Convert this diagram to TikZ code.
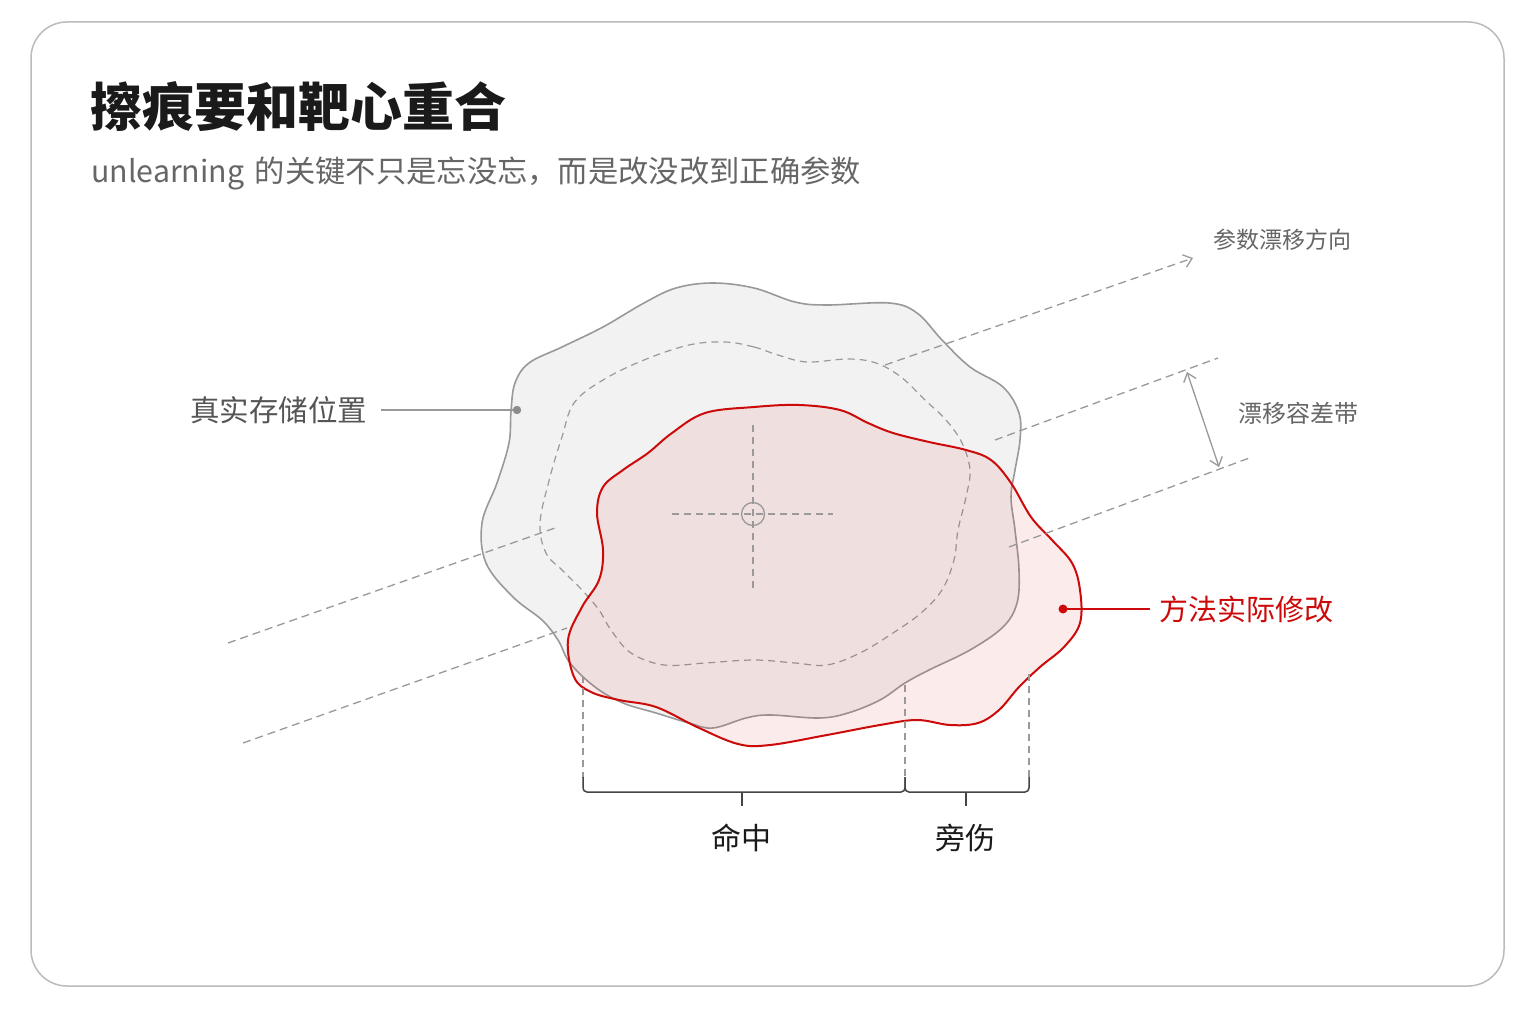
\documentclass[tikz,border=0pt]{standalone}
\usepackage{fontspec}
\setmainfont{Noto Sans CJK SC}
\usetikzlibrary{arrows.meta}
\definecolor{framec}{HTML}{BBBBBB}
\definecolor{blobline}{HTML}{999999}
\definecolor{blobfill}{HTML}{F2F2F2}
\definecolor{dashc}{HTML}{999999}
\definecolor{redc}{HTML}{CC0A0A}
\definecolor{redfill}{HTML}{E62828}
\definecolor{txtgray}{HTML}{555555}
\definecolor{txtlight}{HTML}{666666}
\definecolor{txtdark}{HTML}{1A1A1A}
\definecolor{brackc}{HTML}{444444}
\tikzset{
  fs/.style={font=\fontsize{#1}{#1}\selectfont},
  bandline/.style={draw=dashc, line width=1.3pt, dash pattern=on 8pt off 5pt},
  guideline/.style={draw=dashc, line width=1.2pt, dash pattern=on 7pt off 5pt},
  lbl/.style={inner sep=5pt, anchor=west},
  openhead/.style={-{Straight Barb[length=8pt,width=13pt,line width=1.3pt]}},
}
\begin{document}
\begin{tikzpicture}[x=1pt,y=-1pt]
\fill[white] (0,0) rectangle (1536,1024);
\useasboundingbox (0,0) rectangle (1536,1024);
\draw[framec, line width=1.5pt, rounded corners=36pt] (31,22) rectangle (1504,986);

% title
\node[anchor=west, inner sep=0pt, text=txtdark, font=\bfseries\fontsize{52}{52}\selectfont] (title) at (90,107) {擦痕要和靶心重合};
\node[anchor=west, inner sep=0pt, fs=30.3, text=txtlight] (subtitle) at (91,173) {unlearning\hspace{4pt} 的关键不只是忘没忘，而是改没改到正确参数};

% gray blob (true storage)
\draw[blobline, line width=1.6pt, fill=blobfill] plot[smooth cycle, tension=0.6] coordinates {
(713,283) (754,288) (795,302) (827,305) (889,303) (917,313) (942,340) (970,367)
(1003,387) (1019,413) (1020,440) (1015,470) (1011,497) (1015,530) (1019,570)
(1017,603) (1003,627) (970,650) (929,670) (905,683) (880,700) (848,713) (819,718)
(770,715) (746,718) (713,728) (689,723) (656,713) (623,703) (595,687) (570,663)
(558,640) (542,620) (513,597) (486,563) (482,523) (497,483) (509,443) (511,411)
(515,383) (529,363) (562,347) (603,327) (644,303) (676,288)};

% inner dashed contour
\draw[guideline] plot[smooth cycle, tension=0.6] coordinates {
(725,342) (754,347) (778,355) (807,362) (848,359) (876,363) (901,377) (925,400)
(946,420) (962,443) (970,470) (966,497) (958,530) (954,560) (942,590) (921,613)
(893,633) (860,653) (827,665) (795,663) (754,660) (705,663) (664,665) (631,653)
(611,630) (599,610) (582,590) (562,570) (546,553) (540,523) (550,477) (562,437)
(574,403) (603,380) (644,360) (689,345)};

% red blob (actual modification)
\draw[redc, line width=2pt, fill=redfill, fill opacity=0.09] plot[smooth cycle, tension=0.6] coordinates {
(754,407) (799,405) (840,410) (868,423) (893,433) (929,442) (966,450) (991,460)
(1011,483) (1031,517) (1052,540) (1072,563) (1080,590) (1080,623) (1064,647)
(1040,667) (1019,687) (999,710) (978,723) (950,725) (917,720) (880,725) (827,735)
(770,745) (738,744) (697,727) (656,707) (619,700) (591,692) (574,677) (568,640)
(582,607) (599,580) (603,550) (597,513) (603,487) (623,470) (648,453) (672,433)
(705,413)};

% crosshair
\coordinate (tc) at (753,514);
\draw[guideline, line width=1.1pt] (753,425) -- (753,590);
\draw[guideline, line width=1.1pt] (672,514) -- (833,514);
\draw[blobline, line width=1.3pt] (tc) circle[radius=11.5];

% drift band lines
\coordinate (la1) at (228,643); \coordinate (la2) at (555,528);
\coordinate (lb1) at (243,743); \coordinate (lb2) at (567,628);
\coordinate (ra1) at (885,365); \coordinate (ra2) at (1193,258);
\coordinate (rb1) at (995,440); \coordinate (rb2) at (1218,358);
\coordinate (rc1) at (1009,547); \coordinate (rc2) at (1252,457);
\draw[bandline] (la1) -- (la2);
\draw[bandline] (lb1) -- (lb2);
\draw[bandline, openhead] (ra1) -- (ra2);
\draw[bandline] (rb1) -- (rb2);
\draw[bandline] (rc1) -- (rc2);
\coordinate (tol1) at (1187,372); \coordinate (tol2) at (1219,467);
\draw[dashc, line width=1.3pt, {Straight Barb[length=8pt,width=13pt,line width=1.3pt]}-{Straight Barb[length=8pt,width=13pt,line width=1.3pt]}] (tol1) -- (tol2);

% labels
\node[lbl, fs=23, text=txtlight] (ldrift) at (1208,240) {参数漂移方向};
\node[lbl, fs=24, text=txtlight] (ltol) at (1233,413) {漂移容差带};

\coordinate (dotstore) at (517,410);
\node[lbl, fs=29.5, text=txtgray] (lstore) at (185,410) {真实存储位置};
\draw[blobline, line width=1.6pt, shorten <=9pt] (lstore.east) -- (dotstore);
\fill[gray!90] (dotstore) circle[radius=4.2];

\coordinate (dotmod) at (1063,609);
\node[lbl, fs=29, text=redc] (lmod) at (1154,609) {方法实际修改};
\draw[redc, line width=1.8pt, shorten <=4pt] (lmod.west) -- (dotmod);
\fill[redc] (dotmod) circle[radius=4.5];

% guides down to bracket
\coordinate (g1t) at (583,676); \coordinate (g1b) at (583,778);
\coordinate (g2t) at (905,685); \coordinate (g2b) at (905,778);
\coordinate (g3t) at (1029,674); \coordinate (g3b) at (1029,778);
\draw[guideline] (g1t) -- (g1b);
\draw[guideline] (g2t) -- (g2b);
\draw[guideline] (g3t) -- (g3b);

% brackets
\draw[brackc, line width=1.5pt, rounded corners=4pt] (583,777) -- (583,792) -- (905,792) -- (905,777);
\draw[brackc, line width=1.5pt, rounded corners=4pt] (905,777) -- (905,792) -- (1029,792) -- (1029,777);
\coordinate (t1) at (742,792); \coordinate (t2) at (966,792);
\draw[brackc, line width=1.5pt] (t1) -- ++(0,14);
\draw[brackc, line width=1.5pt] (t2) -- ++(0,14);

\node[fs=30, text=txtdark, inner sep=0pt] (lhit) at (741,838) {命中};
\node[fs=30, text=txtdark, inner sep=0pt] (lside) at (965,838) {旁伤};
\end{tikzpicture}
\end{document}
